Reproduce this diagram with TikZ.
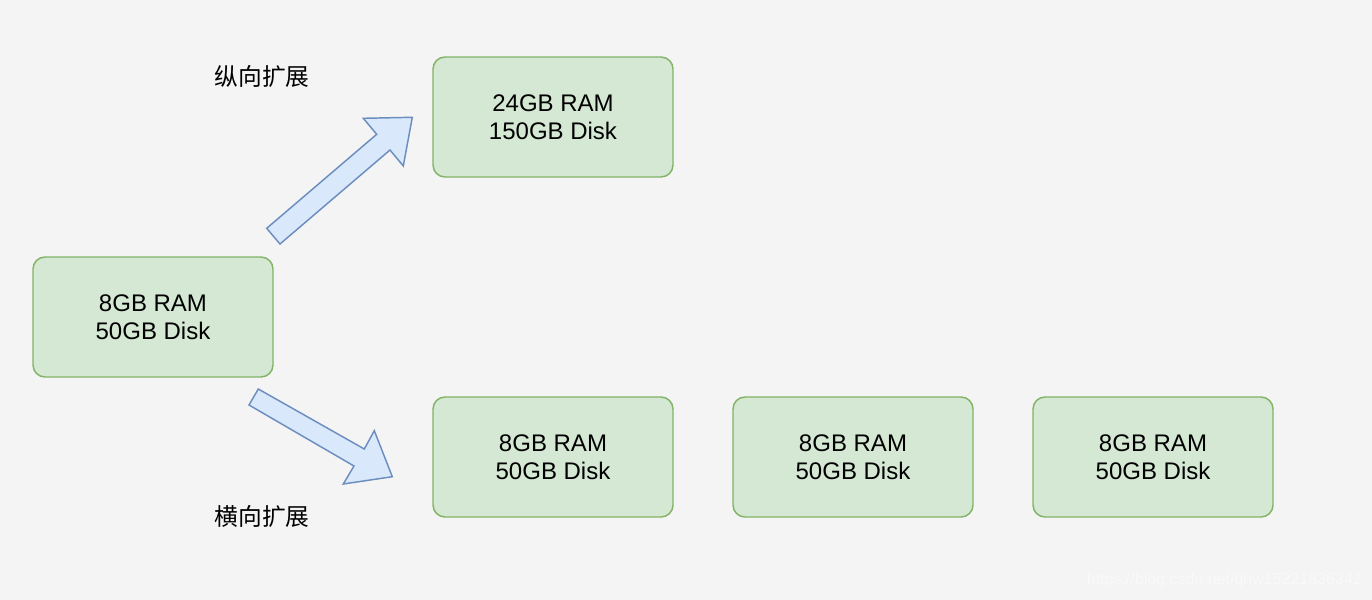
\documentclass[tikz,border=0pt]{standalone}
\usepackage{fontspec}
\setmainfont{Liberation Sans}
\newfontfamily\cjk{Noto Sans CJK SC}
\definecolor{bg}{HTML}{F4F4F4}
\definecolor{gfill}{HTML}{D5E8D4}
\definecolor{gline}{HTML}{82B366}
\definecolor{bfill}{HTML}{DAE8FC}
\definecolor{bline}{HTML}{6C8EBF}
\definecolor{wm}{HTML}{F9F9F9}
\begin{document}
\begin{tikzpicture}[x=0.75pt,y=-0.75pt,
  srv/.style={draw=gline,fill=gfill,line width=1.1pt,rounded corners=9pt,minimum width=180pt,minimum height=90pt,align=center,font=\fontsize{18}{21}\selectfont,inner sep=0pt},
  bigarrow/.style={draw=bline,fill=bfill,line width=1.1pt,line join=miter},
  lbl/.style={font=\cjk\fontsize{17.8}{20}\selectfont,inner sep=0pt}]
\fill[bg] (0,0) rectangle (1372,600);
\useasboundingbox (0,0) rectangle (1372,600);
\node[srv] (src) at (153,317) {8GB RAM\\50GB Disk};
\node[srv] (up) at (553,117) {24GB RAM\\150GB Disk};
\node[srv] (h1) at (553,457) {8GB RAM\\50GB Disk};
\node[srv] (h2) at (853,457) {8GB RAM\\50GB Disk};
\node[srv] (h3) at (1153,457) {8GB RAM\\50GB Disk};
\draw[bigarrow] (266.7,228.3) -- (376.7,134.3) -- (363.3,118.3) -- (412.3,117.3) -- (403.3,166) -- (390,150) -- (280,244) -- cycle;
\draw[bigarrow] (258.3,389) -- (364.3,449) -- (374.3,430.7) -- (392.3,476.7) -- (343.3,484) -- (354,466) -- (249,405) -- cycle;
\node[lbl] (lv) at (262,77) {纵向扩展};
\node[lbl] (lh) at (262,517) {横向扩展};
\node[text=wm,font=\fontsize{12}{14}\selectfont,anchor=east,inner sep=0pt] (wmk) at (1362,580) {https://blog.csdn.net/ghw15221836342};
\end{tikzpicture}
\end{document}
